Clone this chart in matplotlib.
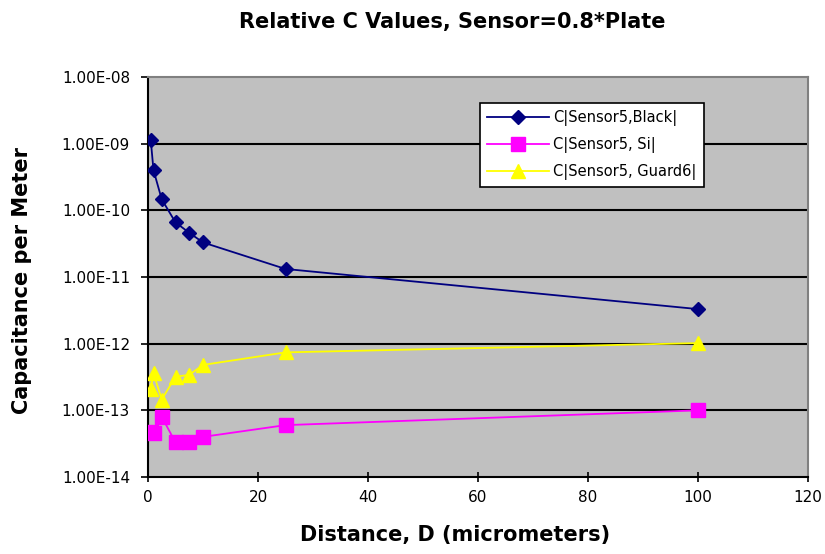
import matplotlib
matplotlib.use("Agg")
import matplotlib.pyplot as plt

# ----- data -----
distance = [0.5, 1, 2.5, 5, 7.5, 10, 25, 100]
c_black = [1.13e-9, 4.0e-10, 1.46e-10, 6.6e-11, 4.6e-11, 3.3e-11, 1.32e-11, 3.3e-12]
c_si = [4.8e-14, 4.6e-14, 8.0e-14, 3.3e-14, 3.3e-14, 4.0e-14, 6.0e-14, 1.0e-13]
c_guard = [2.1e-13, 3.6e-13, 1.45e-13, 3.2e-13, 3.4e-13, 4.8e-13, 7.4e-13, 1.02e-12]

labels = ["C|Sensor5,Black|", "C|Sensor5, Si|", "C|Sensor5, Guard6|"]
yticks = [1e-14, 1e-13, 1e-12, 1e-11, 1e-10, 1e-9, 1e-8]
ytick_labels = ["1.00E-14", "1.00E-13", "1.00E-12", "1.00E-11",
                "1.00E-10", "1.00E-09", "1.00E-08"]
xticks = [0, 20, 40, 60, 80, 100, 120]

W, H = 825, 554
fig = plt.figure(figsize=(W / 100, H / 100), dpi=100)
ax = fig.add_axes([148 / W, 1 - 477 / H, (808 - 148) / W, (477 - 77) / H])
ax.set_facecolor("#c0c0c0")

ax.plot(distance, c_black, color="#000080", lw=1.3, marker="D", ms=7.5,
        label=labels[0], zorder=3)
ax.plot(distance, c_si, color="#ff00ff", lw=1.3, marker="s", ms=9.5,
        label=labels[1], zorder=3)
ax.plot(distance, c_guard, color="#ffff00", lw=1.3, marker="^", ms=10.5,
        label=labels[2], zorder=3)

ax.set_yscale("log")
ax.set_ylim(1e-14, 1e-8)
ax.set_xlim(0, 120)
ax.set_yticks(yticks)
ax.set_yticklabels(ytick_labels)
ax.minorticks_off()
ax.set_xticks(xticks)
ax.tick_params(labelsize=11, length=5, width=1.2, color="black")
ax.tick_params(axis="y", pad=8)
ax.tick_params(axis="x", pad=6, direction="inout", length=7)

for y in yticks[1:-1]:
    ax.axhline(y, color="black", lw=1.5, zorder=1)

for s in ["left", "bottom"]:
    ax.spines[s].set_linewidth(1.5)
    ax.spines[s].set_color("black")
for s in ["top", "right"]:
    ax.spines[s].set_linewidth(1.5)
    ax.spines[s].set_color("#808080")

leg = ax.legend(loc="upper left", bbox_to_anchor=((480 - 148) / 660, 1 - (103 - 77) / 400),
                fontsize=10.5, frameon=True, fancybox=False, framealpha=1,
                edgecolor="black", handlelength=4.2, borderpad=0.5,
                labelspacing=0.75, handletextpad=0.3, borderaxespad=0)
leg.get_frame().set_linewidth(1.2)

fig.text(452 / W, 1 - 22 / H, "Relative C Values, Sensor=0.8*Plate",
         ha="center", va="center", fontsize=15, fontweight="bold")
fig.text(455 / W, 1 - 535 / H, "Distance, D (micrometers)",
         ha="center", va="center", fontsize=15, fontweight="bold")
fig.text(22 / W, 1 - 280 / H, "Capacitance per Meter", rotation=90,
         ha="center", va="center", fontsize=15, fontweight="bold")

fig.savefig("out.png", dpi=100)
